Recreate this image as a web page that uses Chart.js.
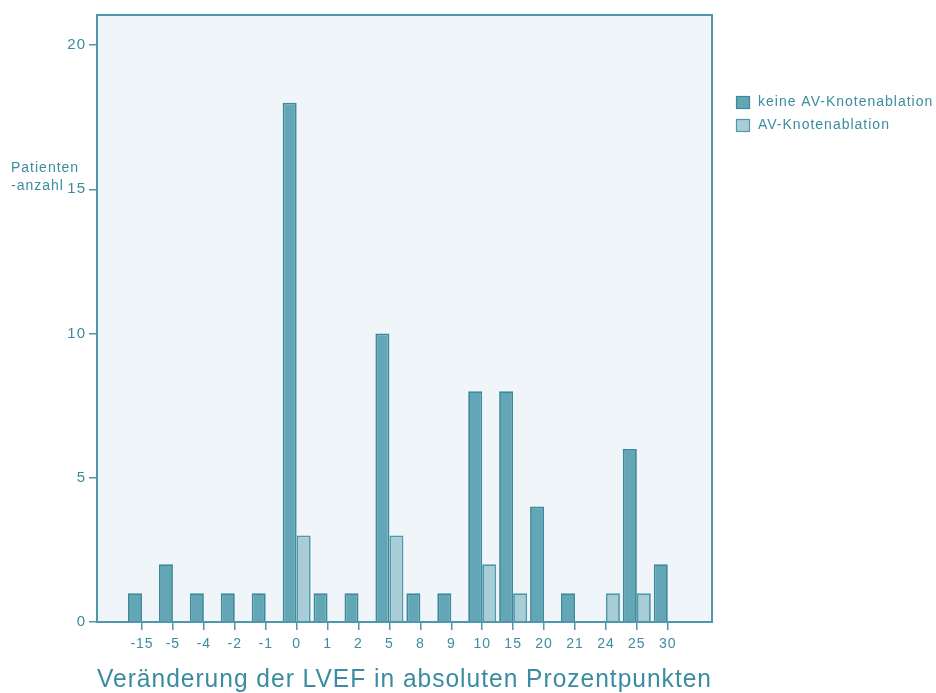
<!DOCTYPE html>
<html>
<head>
<meta charset="utf-8">
<script src="https://cdn.jsdelivr.net/npm/chart.js@4"></script>
<style>
  html, body { margin: 0; padding: 0; background: #ffffff; }
  #wrap { width: 936px; height: 693px; }
</style>
</head>
<body>
<div id="wrap"><canvas id="c" width="936" height="693"></canvas></div>
<script>
// Change in LVEF (absolute percentage points) and patient counts per group
const categories = ['-15', '-5', '-4', '-2', '-1', '0', '1', '2', '5', '8', '9', '10', '15', '20', '21', '24', '25', '30'];
const keineAblation = [1, 2, 1, 1, 1, 18, 1, 1, 10, 1, 1, 8, 8, 4, 1, 0, 6, 2];
const mitAblation   = [0, 0, 0, 0, 0, 3, 0, 0, 3, 0, 0, 2, 1, 0, 0, 1, 1, 0];
const seriesNames = ['keine AV-Knotenablation', 'AV-Knotenablation'];
const yTicks = [0, 5, 10, 15, 20];
const yAxisTitle = ['Patienten', '-anzahl'];
const xAxisTitle = 'Veränderung der LVEF in absoluten Prozentpunkten';

const FONT = '"Liberation Sans", Arial, sans-serif';
const TEXT = '#3b8ca1';
const FRAME = '#4f98ab';
const PLOT_BG = '#eff5f8';
const fills = ['#63a6b6', '#a9cdd6'];
const borders = ['#3c889c', '#4f97aa'];

// Bars sit on a linear index axis so the plot frame can extend past the outer groups
const toPoints = vals => vals.map((v, i) => ({ x: i, y: v > 0 ? v : null }));

const framePlugin = {
  id: 'frame',
  beforeDraw(chart) {
    const { ctx, chartArea: a } = chart;
    ctx.save();
    ctx.fillStyle = PLOT_BG;
    ctx.fillRect(a.left, a.top, a.right - a.left, a.bottom - a.top);
    ctx.restore();
    ctx.letterSpacing = '1px';
  },
  afterDatasetsDraw(chart) {
    const { ctx, chartArea: a } = chart;
    ctx.save();
    ctx.strokeStyle = FRAME;
    ctx.lineWidth = 2;
    ctx.strokeRect(a.left, a.top, a.right - a.left, a.bottom - a.top);
    ctx.restore();
  },
  afterDraw(chart) {
    const { ctx } = chart;
    ctx.save();
    ctx.letterSpacing = '1px';
    ctx.font = '14px ' + FONT;
    ctx.fillStyle = TEXT;
    ctx.textBaseline = 'middle';
    ctx.textAlign = 'left';
    // vertical axis caption
    yAxisTitle.forEach((t, i) => ctx.fillText(t, 11, 168 + i * 18));
    // legend
    chart.data.datasets.forEach((ds, i) => {
      const y = 96 + i * 23;
      ctx.fillStyle = ds.backgroundColor;
      ctx.fillRect(736, y, 14, 13);
      ctx.strokeStyle = ds.borderColor;
      ctx.lineWidth = 1.2;
      ctx.strokeRect(736.5, y + 0.5, 13, 12);
      ctx.fillStyle = TEXT;
      ctx.fillText(ds.label, 758, y + 6.5);
    });
    ctx.restore();
  }
};

new Chart(document.getElementById('c'), {
  type: 'bar',
  data: {
    datasets: [
      {
        label: seriesNames[0],
        data: toPoints(keineAblation),
        backgroundColor: fills[0],
        borderColor: borders[0],
        borderWidth: 1.8,
        categoryPercentage: 0.905,
        barPercentage: 1
      },
      {
        label: seriesNames[1],
        data: toPoints(mitAblation),
        backgroundColor: fills[1],
        borderColor: borders[1],
        borderWidth: 1.8,
        categoryPercentage: 0.905,
        barPercentage: 1
      }
    ]
  },
  options: {
    responsive: false,
    animation: false,
    devicePixelRatio: 1,
    layout: { padding: { left: 0, top: 15, right: 224, bottom: 0 } },
    plugins: { legend: { display: false }, tooltip: { enabled: false } },
    scales: {
      x: {
        type: 'linear',
        offset: false,
        min: -1.455,
        max: categories.length - 1 + 1.43,
        afterBuildTicks: s => { s.ticks = categories.map((_, i) => ({ value: i })); },
        afterFit: s => { s.height = 71; },
        ticks: {
          autoSkip: false,
          maxRotation: 0,
          padding: 6,
          color: TEXT,
          font: { family: FONT, size: 14 },
          callback: v => categories[v]
        },
        grid: { offset: false, drawOnChartArea: false, drawTicks: true, tickLength: 8, color: FRAME, lineWidth: 1.5 },
        border: { display: false },
        title: {
          display: true,
          text: xAxisTitle,
          color: TEXT,
          font: { family: FONT, size: 25, lineHeight: 1 },
          padding: { top: 0, bottom: 0 }
        }
      },
      y: {
        min: 0,
        max: 21.04,
        afterBuildTicks: s => { s.ticks = yTicks.map(v => ({ value: v })); },
        afterFit: s => { s.width = 97; },
        ticks: {
          padding: 3,
          color: TEXT,
          font: { family: FONT, size: 15 }
        },
        grid: { drawOnChartArea: false, drawTicks: true, tickLength: 8, color: FRAME, lineWidth: 1.5 },
        border: { display: false }
      }
    }
  },
  plugins: [framePlugin]
});
</script>
</body>
</html>
